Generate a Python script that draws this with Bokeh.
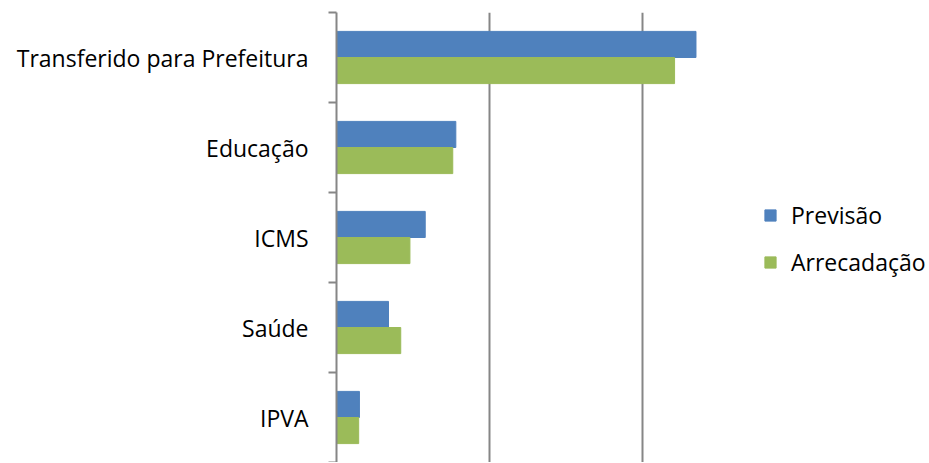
from bokeh.plotting import figure
from bokeh.models import ColumnDataSource, FixedTicker, Legend, LegendItem, Range1d
from bokeh.embed import file_html
from bokeh.resources import INLINE

categories = ["Transferido para Prefeitura", "Educação", "ICMS", "Saúde", "IPVA"]
previsao = [2.35, 0.78, 0.58, 0.34, 0.15]
arrecadacao = [2.21, 0.76, 0.48, 0.42, 0.145]
series_names = ["Previsão", "Arrecadação"]
colors = ["#4F81BD", "#9BBB59"]

n = len(categories)
# category 0 at top
centers = [n - i - 0.5 for i in range(n)]
bar_h = 0.29

src = ColumnDataSource(dict(
    cat=categories,
    y_prev=[c + bar_h / 2 for c in centers],
    y_arr=[c - bar_h / 2 for c in centers],
    prev=previsao,
    arr=arrecadacao,
))

FONT = "Open Sans"

p = figure(width=928, height=462, output_backend="svg", toolbar_location=None,
           x_range=Range1d(0, 3.87), y_range=Range1d(0, n),
           x_axis_location=None, min_border_left=336, min_border_right=0,
           min_border_top=12, min_border_bottom=0)
p.outline_line_color = None
p.background_fill_color = "white"
p.border_fill_color = "white"

r1 = p.hbar(y="y_prev", right="prev", left=0, height=bar_h, source=src,
            fill_color=colors[0], line_color=colors[0])
r2 = p.hbar(y="y_arr", right="arr", left=0, height=bar_h, source=src,
            fill_color=colors[1], line_color=colors[1])

ax = p.yaxis[0]
ax.ticker = FixedTicker(ticks=centers, minor_ticks=list(range(n + 1)))
ax.major_label_overrides = {c: cat for c, cat in zip(centers, categories)}
ax.major_tick_in = 0
ax.major_tick_out = 0
ax.minor_tick_in = 0
ax.minor_tick_out = 8
ax.minor_tick_line_color = "#868686"
ax.minor_tick_line_width = 2
ax.axis_line_color = "#868686"
ax.axis_line_width = 2
ax.major_label_text_font = FONT
ax.major_label_text_font_size = "23px"
ax.major_label_text_color = "#000000"
ax.major_label_standoff = 20

p.ygrid.visible = False
p.xgrid.ticker = FixedTicker(ticks=[1, 2])
p.xgrid.grid_line_color = "#868686"
p.xgrid.grid_line_width = 2

legend = Legend(items=[LegendItem(label=series_names[0], renderers=[r1]),
                       LegendItem(label=series_names[1], renderers=[r2])],
                location=(427, 184), padding=0, margin=0,
                border_line_color=None, background_fill_alpha=0,
                glyph_width=14, glyph_height=14, label_height=20,
                label_standoff=14, spacing=15,
                label_text_font=FONT, label_text_font_size="23px",
                label_text_color="#000000")
p.add_layout(legend)

open("out.html", "w").write(file_html(p, INLINE))
